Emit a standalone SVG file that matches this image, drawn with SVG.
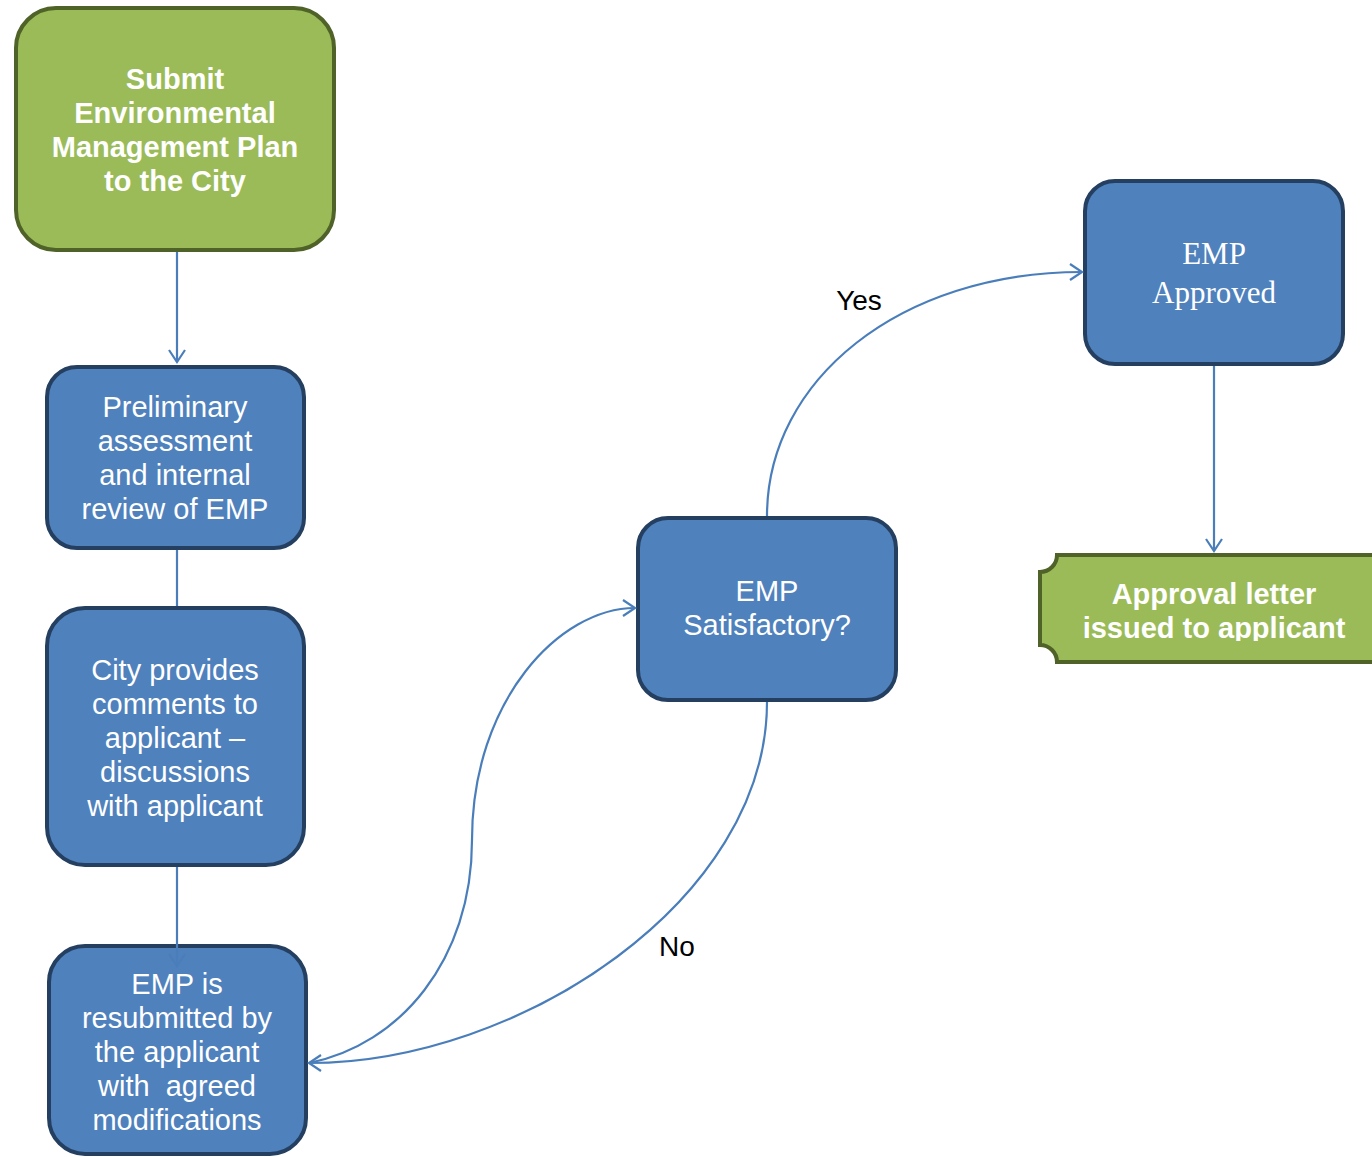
<svg xmlns="http://www.w3.org/2000/svg" width="1372" height="1157" viewBox="0 0 1372 1157">
<style>
.green{fill:#9BBB59;stroke:#4F6228;stroke-width:4}
.blue{fill:#4F81BD;stroke:#243F60;stroke-width:4}
.t{font-family:"Liberation Sans",Arial,sans-serif;font-size:29px;fill:#fff;text-anchor:middle}
.b{font-weight:bold}
.s{font-family:"Liberation Serif","Times New Roman",serif;font-size:31px;fill:#fff;text-anchor:middle}
.lbl{font-family:"Liberation Sans",Arial,sans-serif;font-size:28px;fill:#000;text-anchor:middle}
.c{fill:none;stroke:#4A7EBB;stroke-width:2.2}
</style>
<defs>
<marker id="ah" markerWidth="20" markerHeight="20" refX="14" refY="10" orient="auto" markerUnits="userSpaceOnUse">
<path d="M2,2 L14,10 L2,18" fill="none" stroke="#4A7EBB" stroke-width="2.2"/>
</marker>
<clipPath id="clip7"><rect x="1040" y="570" width="332" height="71"/></clipPath>
</defs>
<rect width="1372" height="1157" fill="#fff"/>
<g id="n1">
<rect class="green" x="16" y="8" width="318" height="242" rx="40"/>
<text class="t b"><tspan x="175" y="89">Submit</tspan><tspan x="175" y="123">Environmental</tspan><tspan x="175" y="157">Management Plan</tspan><tspan x="175" y="191">to the City</tspan></text>
</g>
<g id="n2">
<rect class="blue" x="47" y="367" width="257" height="181" rx="30"/>
<text class="t"><tspan x="175" y="417">Preliminary</tspan><tspan x="175" y="451">assessment</tspan><tspan x="175" y="485">and internal</tspan><tspan x="175" y="519">review of EMP</tspan></text>
</g>
<g id="n3">
<rect class="blue" x="47" y="608" width="257" height="257" rx="38"/>
<text class="t"><tspan x="175" y="680">City provides</tspan><tspan x="175" y="714">comments to</tspan><tspan x="175" y="748">applicant –</tspan><tspan x="175" y="782">discussions</tspan><tspan x="175" y="816">with applicant</tspan></text>
</g>
<g id="n4">
<rect class="blue" x="49" y="946" width="257" height="208" rx="36"/>
<text class="t" xml:space="preserve"><tspan x="177" y="994">EMP is</tspan><tspan x="177" y="1028">resubmitted by</tspan><tspan x="177" y="1062">the applicant</tspan><tspan x="177" y="1096">with  agreed</tspan><tspan x="177" y="1130">modifications</tspan></text>
</g>
<g id="n5">
<rect class="blue" x="638" y="518" width="258" height="182" rx="30"/>
<text class="t"><tspan x="767" y="601">EMP</tspan><tspan x="767" y="635">Satisfactory?</tspan></text>
</g>
<g id="n6">
<rect class="blue" x="1085" y="181" width="258" height="183" rx="30"/>
<text class="s"><tspan x="1214" y="264">EMP</tspan><tspan x="1214" y="303">Approved</tspan></text>
</g>
<g id="n7">
<path class="green" d="M1057,555 L1380,555 L1380,662 L1057,662 A17,17 0 0 0 1040,645 L1040,572 A17,17 0 0 0 1057,555 Z"/>
<text class="t b" clip-path="url(#clip7)"><tspan x="1214" y="604">Approval letter</tspan><tspan x="1214" y="638">issued to applicant</tspan></text>
</g>
<g id="connectors">
<path class="c" d="M177,252 L177,362" marker-end="url(#ah)"/>
<path class="c" d="M177,550 L177,606"/>
<path class="c" d="M177,867 L177,966" marker-end="url(#ah)"/>
<path class="c" d="M767,516 C767,380 900,272 1082,272" marker-end="url(#ah)"/>
<path class="c" d="M767,702 C767,900 520,1063 309,1063" marker-end="url(#ah)"/>
<path class="c" d="M309,1063 C400,1045 472,960 472,840 C472,700 560,608 635,608" marker-end="url(#ah)"/>
<path class="c" d="M1214,366 L1214,551" marker-end="url(#ah)"/>
</g>
<g id="labels">
<text class="lbl" x="859" y="310">Yes</text>
<text class="lbl" x="677" y="956">No</text>
</g>
</svg>
